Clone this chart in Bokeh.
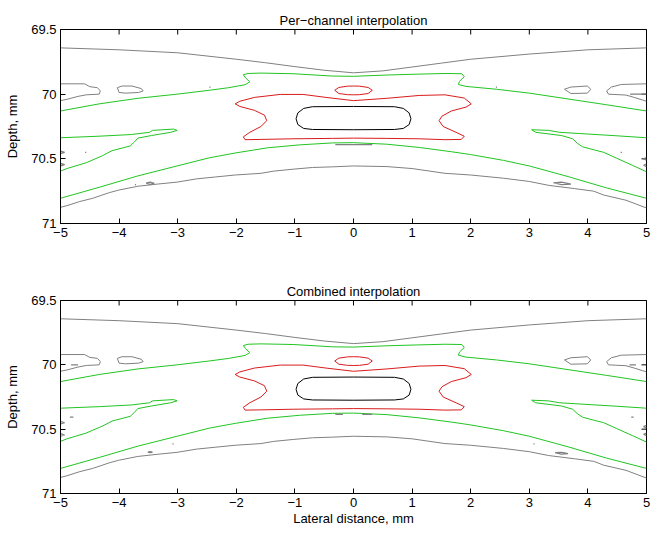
import math
from bokeh.plotting import figure
from bokeh.models import Range1d, FixedTicker
from bokeh.layouts import column
from bokeh.embed import file_html
from bokeh.resources import INLINE

# ---------------- axes ----------------
X_TICKS = [-5, -4, -3, -2, -1, 0, 1, 2, 3, 4, 5]
X_TICK_LABELS = ["\u22125", "\u22124", "\u22123", "\u22122", "\u22121", "0", "1", "2", "3", "4", "5"]
Y_TICKS = [69.5, 70, 70.5, 71]
Y_TICK_LABELS = ["69.5", "70", "70.5", "71"]
TITLES = ["Per\u2212channel interpolation", "Combined interpolation"]
X_LABEL = "Lateral distance, mm"
Y_LABEL = "Depth, mm"

GRAY = "#808080"
GREEN = "#22c422"
RED = "#d81c1c"
BLACK = "#000000"

# ---------------- contour lines (lateral mm, depth mm) ----------------
GRAY_TOP_X = [-5, -4, -3, -2, -1.5, -1, -0.5, 0, 0.5, 1, 1.5, 2, 3, 4, 5]
GRAY_TOP_Y = [69.642, 69.657, 69.68, 69.73, 69.757, 69.787, 69.815, 69.835, 69.82, 69.79, 69.76, 69.73, 69.69, 69.657, 69.642]

GRAY_BOT_X = [-5, -4.89, -4.67, -4.45, -4.17, -4.01, -3.68, -3.34, -3.01, -2.68, -2.35, -2.02, -1.58, -1.36, -1.03, -0.70, -0.36,
              0, 0.57, 1.0, 1.56, 2.0, 2.56, 3.0, 3.33, 3.77, 4.10, 4.27, 4.65, 5.0]
GRAY_BOT_Y = [70.875, 70.862, 70.83, 70.805, 70.762, 70.742, 70.712, 70.695, 70.68, 70.655, 70.64, 70.625, 70.612, 70.595, 70.58, 70.567, 70.562,
              70.555, 70.56, 70.575, 70.612, 70.625, 70.65, 70.675, 70.705, 70.73, 70.75, 70.78, 70.82, 70.88]

GREEN_UP_X = [-5, -4.34, -3.68, -3.01, -2.46, -2.13, -1.85, -1.77, -1.84, -1.88, -1.80, -1.58, -1.03, -0.36,
              0, 0.57, 1.12, 1.56, 1.85, 1.89, 1.81, 1.79, 1.92, 2.44, 3.0, 3.66, 4.32, 5.0]
GREEN_UP_Y = [70.13, 70.075, 70.032, 70.0, 69.97, 69.95, 69.927, 69.905, 69.875, 69.85, 69.84, 69.837, 69.842, 69.86,
              69.862, 69.852, 69.845, 69.84, 69.842, 69.865, 69.90, 69.925, 69.94, 69.962, 69.992, 70.037, 70.082, 70.13]

GREEN_LOW_X = [-5, -4.34, -3.68, -3.01, -2.46, -2.02, -1.47, -0.92, -0.36, 0, 0.57, 1.12, 1.67, 2.0, 2.56, 3.0, 3.66, 4.32, 5]
GREEN_LOW_Y = [70.805, 70.72, 70.632, 70.555, 70.492, 70.455, 70.415, 70.392, 70.377, 70.375, 70.387, 70.412, 70.445, 70.467, 70.512, 70.555, 70.637, 70.725, 70.805]

GREEN_LEFT_X = [-5, -4.34, -3.79, -3.48, -3.43, -3.07, -3.01, -3.12, -3.45, -3.68, -3.74, -3.81, -3.95, -4.12, -4.28, -4.56, -4.89, -5]
GREEN_LEFT_Y = [70.337, 70.325, 70.312, 70.295, 70.28, 70.27, 70.28, 70.295, 70.32, 70.34, 70.37, 70.40, 70.417, 70.437, 70.475, 70.53, 70.575, 70.595]

GREEN_RIGHT_X = [5, 4.43, 3.88, 3.52, 3.33, 3.04, 3.11, 3.55, 3.74, 3.82, 3.91, 4.10, 4.27, 4.49, 4.76, 5]
GREEN_RIGHT_Y = [70.337, 70.32, 70.305, 70.295, 70.28, 70.275, 70.295, 70.32, 70.345, 70.38, 70.407, 70.43, 70.45, 70.495, 70.55, 70.60]

RED_OUT_X = [-2.02, -1.94, -1.69, -1.25, -0.86, -0.47, 0, 0.57, 1.12, 1.56, 1.89, 2.01, 1.92, 1.67, 1.51, 1.46, 1.53, 1.75, 1.89, 1.84,
             1.56, 1.12, 0.57, 0, -0.36, -1.03, -1.58, -1.85, -1.88, -1.77, -1.58, -1.48, -1.52, -1.69, -1.94, -2.02]
RED_OUT_Y = [70.075, 70.055, 70.025, 70.002, 70.002, 70.025, 70.05, 70.032, 70.01, 70.005, 70.03, 70.075, 70.10, 70.13, 70.17, 70.205, 70.25, 70.295, 70.325, 70.35,
             70.352, 70.345, 70.342, 70.34, 70.342, 70.345, 70.35, 70.352, 70.33, 70.295, 70.25, 70.205, 70.162, 70.125, 70.095, 70.075]

RED_IN_X = [-0.32, -0.25, -0.1, 0, 0.1, 0.25, 0.32, 0.25, 0.1, 0, -0.1, -0.25, -0.32]
RED_IN_Y = [69.97, 69.948, 69.938, 69.937, 69.938, 69.948, 69.97, 69.995, 70.004, 70.005, 70.004, 69.995, 69.97]

BLACK_X = [-0.98, -0.95, -0.85, -0.7, 0, 0.7, 0.85, 0.95, 0.98, 0.95, 0.85, 0.7, 0, -0.7, -0.85, -0.95, -0.98]
BLACK_Y = [70.19, 70.145, 70.11, 70.097, 70.095, 70.097, 70.11, 70.145, 70.19, 70.235, 70.265, 70.273, 70.275, 70.273, 70.265, 70.235, 70.19]

GRAY_LEDGE_X = [-5, -4.59, -4.50, -4.37, -4.32, -4.34, -4.56, -4.70, -4.89, -5]
GRAY_LEDGE_Y = [69.92, 69.92, 69.942, 69.95, 69.975, 70.0, 70.005, 70.017, 70.04, 70.05]
GRAY_LLOOP_X = [-4.03, -3.95, -3.78, -3.62, -3.59, -3.67, -3.89, -4.0, -4.03]
GRAY_LLOOP_Y = [69.95, 69.937, 69.937, 69.957, 69.975, 69.987, 69.992, 69.987, 69.95]
GRAY_REDGE_X = [5, 4.57, 4.40, 4.32, 4.35, 4.65, 4.79, 4.93, 5]
GRAY_REDGE_Y = [69.92, 69.925, 69.945, 69.975, 70.0, 70.007, 70.025, 70.045, 70.055]
GRAY_RLOOP_X = [3.60, 3.71, 3.99, 4.05, 3.99, 3.71, 3.60]
GRAY_RLOOP_Y = [69.962, 69.945, 69.937, 69.962, 69.992, 69.995, 69.962]

# small isolated contour pieces, per panel
P1_BITS_X = [[-0.31, 0.32], [-2.46, -2.44], [2.43, 2.45], [-4.58, -4.56], [4.56, 4.58], [-3.73, -3.71],
             [-3.54, -3.47, -3.40, -3.47, -3.54], [3.41, 3.55, 3.71, 3.55, 3.41], [4.72, 5.0],
             [-5, -4.93, -5], [-5, -4.93, -5], [5, 4.95, 5], [5, 4.95, 5]]
P1_BITS_Y = [[70.39, 70.39], [69.945, 69.945], [69.945, 69.945], [70.45, 70.45], [70.45, 70.45], [70.70, 70.70],
             [70.688, 70.68, 70.69, 70.697, 70.688], [70.685, 70.68, 70.695, 70.70, 70.685], [70.0, 70.0],
             [70.44, 70.45, 70.46], [70.535, 70.545, 70.555], [70.49, 70.5, 70.51], [70.54, 70.55, 70.56]]
P2_BITS_X = [[-0.31, -0.18], [0.15, 0.32], [-4.82, -4.70], [-4.84, -4.78], [-3.51, -3.47, -3.43, -3.47, -3.51],
             [-3.09, -3.07], [3.44, 3.55, 3.66, 3.55, 3.44], [4.71, 4.82], [4.74, 4.78], [3.07, 3.09],
             [-5, -4.93, -5], [-5, -4.93, -5], [5, 4.95, 5], [5, 4.95, 5]]
P2_BITS_Y = [[70.385, 70.385], [70.385, 70.385], [70.0, 70.0], [70.407, 70.407], [70.678, 70.674, 70.678, 70.682, 70.678],
             [70.615, 70.615], [70.683, 70.68, 70.69, 70.695, 70.683], [70.0, 70.0], [70.407, 70.407], [70.615, 70.615],
             [70.44, 70.45, 70.46], [70.535, 70.545, 70.555], [70.47, 70.48, 70.49], [70.53, 70.54, 70.55]]

SHARED = [
    (GRAY_TOP_X, GRAY_TOP_Y, GRAY), (GRAY_BOT_X, GRAY_BOT_Y, GRAY),
    (GRAY_LEDGE_X, GRAY_LEDGE_Y, GRAY), (GRAY_LLOOP_X, GRAY_LLOOP_Y, GRAY),
    (GRAY_REDGE_X, GRAY_REDGE_Y, GRAY), (GRAY_RLOOP_X, GRAY_RLOOP_Y, GRAY),
    (GREEN_UP_X, GREEN_UP_Y, GREEN), (GREEN_LOW_X, GREEN_LOW_Y, GREEN),
    (GREEN_LEFT_X, GREEN_LEFT_Y, GREEN), (GREEN_RIGHT_X, GREEN_RIGHT_Y, GREEN),
    (RED_OUT_X, RED_OUT_Y, RED), (RED_IN_X, RED_IN_Y, RED),
    (BLACK_X, BLACK_Y, BLACK),
]

FONT = "Liberation Sans"
FS = "13px"


def style_axis(ax, ticks, labels):
    ax.ticker = FixedTicker(ticks=ticks)
    ax.major_label_overrides = {t: l for t, l in zip(ticks, labels)}
    ax.major_tick_in = 5
    ax.major_tick_out = 0
    ax.minor_tick_line_color = None
    ax.axis_line_color = "black"
    ax.major_tick_line_color = "black"
    ax.major_label_text_font = FONT
    ax.major_label_text_font_size = FS
    ax.major_label_text_color = "black"
    ax.major_label_standoff = 4
    ax.axis_label_text_font = FONT
    ax.axis_label_text_font_size = FS
    ax.axis_label_text_font_style = "normal"
    ax.axis_label_text_color = "black"


def make_panel(title, bits_x, bits_y, height, top, bottom, xlabel):
    p = figure(width=652, height=height, output_backend="svg", toolbar_location=None,
               x_range=Range1d(-5, 5), y_range=Range1d(71, 69.5),
               min_border_left=60, min_border_right=6, min_border_top=top, min_border_bottom=bottom,
               title=title)
    p.title.text_font = FONT
    p.title.text_font_size = FS
    p.title.text_font_style = "normal"
    p.title.align = "center"
    p.title.text_color = "black"
    p.title.standoff = 4
    p.grid.visible = False
    p.outline_line_color = "black"
    p.outline_line_alpha = 1
    p.background_fill_color = "white"
    p.border_fill_color = "white"
    style_axis(p.xaxis[0], X_TICKS, X_TICK_LABELS)
    style_axis(p.yaxis[0], Y_TICKS, Y_TICK_LABELS)
    p.yaxis[0].axis_label = Y_LABEL
    p.yaxis[0].axis_label_standoff = 8
    if xlabel:
        p.xaxis[0].axis_label = xlabel
        p.xaxis[0].axis_label_standoff = 1
    # tick marks on the top and right edges of the box (the outward half is clipped by the frame)
    for ang in (math.pi / 2, -math.pi / 2):
        p.ray(x=X_TICKS, y=[69.5] * len(X_TICKS), length=5, length_units="screen", angle=ang, line_color="black", line_width=1)
    for ang in (0, math.pi):
        p.ray(x=[5] * len(Y_TICKS), y=Y_TICKS, length=5, length_units="screen", angle=ang, line_color="black", line_width=1)
    for xs, ys, c in SHARED:
        p.line(xs, ys, line_color=c, line_width=1)
    p.multi_line(bits_x, bits_y, line_color=GRAY, line_width=1.2)
    return p


p1 = make_panel(TITLES[0], P1_BITS_X, P1_BITS_Y, 273, 29, 50, None)
p2 = make_panel(TITLES[1], P2_BITS_X, P2_BITS_Y, 255, 27, 34, X_LABEL)
layout = column(p1, p2)

open("out.html", "w").write(file_html(layout, INLINE))
